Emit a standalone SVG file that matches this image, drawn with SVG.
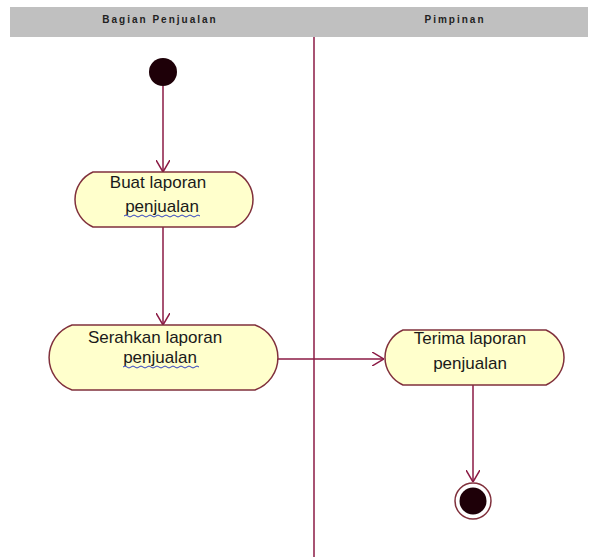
<svg xmlns="http://www.w3.org/2000/svg" width="597" height="557" viewBox="0 0 597 557">
<style>
.lane{font-family:"Liberation Sans",Arial,sans-serif;font-size:10px;font-weight:bold;fill:#222;letter-spacing:2px}
.act{fill:#ffffcc;stroke:#80303c;stroke-width:1.5}
.lbl{font-family:"Liberation Sans",Arial,sans-serif;font-size:17px;fill:#1a1a1a;text-anchor:middle}
.edge{stroke:#8b1a44;stroke-width:1.5;fill:none}
.sq{stroke:#3040c0;stroke-width:1;fill:none}
</style>
<defs>
<marker id="arr" viewBox="0 0 12 14" refX="12" refY="7" markerWidth="12" markerHeight="14" markerUnits="userSpaceOnUse" orient="auto">
<path d="M0,0 L12,7 L0,14" fill="none" stroke="#8b1a44" stroke-width="1.5"/>
</marker>
</defs>
<rect width="597" height="557" fill="#ffffff"/>
<g id="swimlanes">
<rect x="10" y="7" width="578" height="30" fill="#c0c0c0"/>
<text class="lane" x="160" y="23" text-anchor="middle">Bagian Penjualan</text>
<text class="lane" x="455" y="23" text-anchor="middle">Pimpinan</text>
<line x1="314" y1="37" x2="314" y2="557" stroke="#8b1a44" stroke-width="1.5"/>
</g>
<g id="connectors">
<line class="edge" x1="163" y1="86" x2="163" y2="172" marker-end="url(#arr)"/>
<line class="edge" x1="163" y1="227" x2="163" y2="325" marker-end="url(#arr)"/>
<line class="edge" x1="278" y1="359" x2="384" y2="359" marker-end="url(#arr)"/>
<line class="edge" x1="473" y1="385" x2="473" y2="482" marker-end="url(#arr)"/>
</g>
<g id="start">
<circle cx="163" cy="72" r="14" fill="#1e0008"/>
</g>
<g id="buat">
<path class="act" d="M93,172 H235 A30,30 0 0 1 235,227 H93 A30,30 0 0 1 93,172 Z"/>
<text class="lbl" x="158" y="188">Buat laporan</text>
<text class="lbl" x="162" y="212">penjualan</text>
<path class="sq" d="M124,216 q2,-2 4,0 t4,0 t4,0 t4,0 t4,0 t4,0 t4,0 t4,0 t4,0 t4,0 t4,0 t4,0 t4,0 t4,0 t4,0 t4,0 t4,0 t4,0 t4,0"/>
</g>
<g id="serahkan">
<path class="act" d="M72,325 H255 A34.5,34.5 0 0 1 255,390 H72 A34.5,34.5 0 0 1 72,325 Z"/>
<text class="lbl" x="155" y="343">Serahkan laporan</text>
<text class="lbl" x="160" y="363">penjualan</text>
<path class="sq" d="M123,367 q2,-2 4,0 t4,0 t4,0 t4,0 t4,0 t4,0 t4,0 t4,0 t4,0 t4,0 t4,0 t4,0 t4,0 t4,0 t4,0 t4,0 t4,0 t4,0 t4,0"/>
</g>
<g id="terima">
<path class="act" d="M403,330 H546 A30,30 0 0 1 546,385 H403 A30,30 0 0 1 403,330 Z"/>
<text class="lbl" x="470" y="344">Terima laporan</text>
<text class="lbl" x="470" y="369">penjualan</text>
</g>
<g id="end">
<circle cx="473" cy="501" r="18" fill="#ffffff" stroke="#80303c" stroke-width="1.5"/>
<circle cx="473" cy="501" r="13.5" fill="#1e0008"/>
</g>
</svg>
